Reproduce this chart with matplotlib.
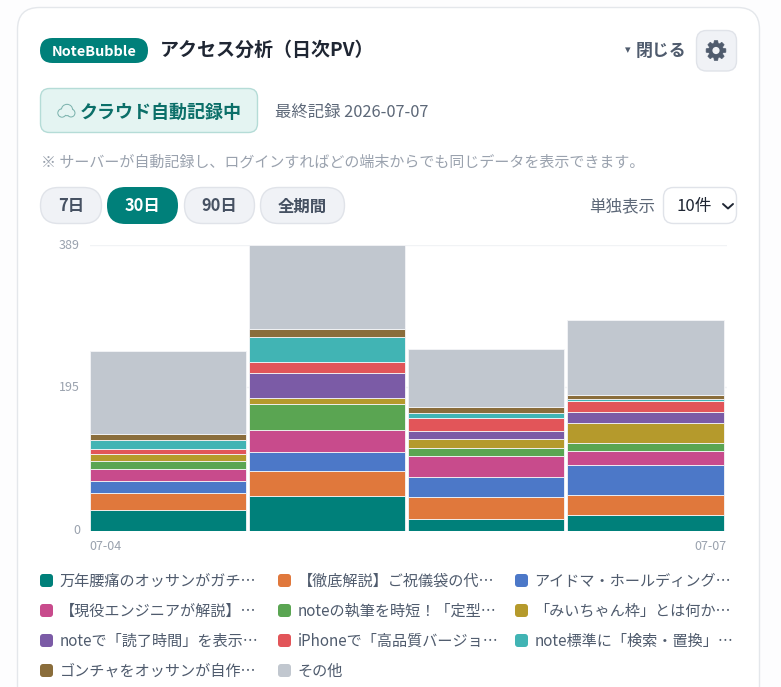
import numpy as np
import matplotlib as mpl
mpl.use('Agg')
import matplotlib.pyplot as plt
from matplotlib.patches import FancyBboxPatch, Circle, PathPatch
from matplotlib.path import Path
from matplotlib.transforms import ScaledTranslation

plt.rcParams['font.family'] = ['Noto Sans CJK JP', 'DejaVu Sans']

# --- data
dates = ['07-04', '07-05', '07-06', '07-07']
y_ticks = [0, 195, 389]

s_teal = [28, 47, 15, 21]
s_orange = [23, 34, 31, 27]
s_blue = [17, 26, 27, 41]
s_pink = [16, 30, 29, 19]
s_green = [10, 35, 10, 11]
s_gold = [10, 8, 12, 27]
s_purple = [0, 34, 11, 15]
s_red = [7, 16, 18, 16]
s_cyan = [12, 33, 7, 2]
s_brown = [8, 12, 8, 6]
s_other = [114, 114, 79, 101]

labels = ['万年腰痛のオッサンがガチ…', '【徹底解説】ご祝儀袋の代…', 'アイドマ・ホールディング…',
          '【現役エンジニアが解説】…', 'noteの執筆を時短！「定型…', '「みいちゃん枠」とは何か…',
          'noteで「読了時間」を表示…', 'iPhoneで「高品質バージョ…', 'note標準に「検索・置換」…',
          'ゴンチャをオッサンが自作…', 'その他']
colors = ['#00807a', '#e0783c', '#4c78c8', '#c84b8c', '#5aa552', '#b59a2c',
          '#7b5ba6', '#e25559', '#41b4b4', '#8a6d3b', '#c1c7cf']
series = [s_teal, s_orange, s_blue, s_pink, s_green, s_gold,
          s_purple, s_red, s_cyan, s_brown, s_other]

W, H = 781, 687
TEAL = '#00807a'
fig = plt.figure(figsize=(W / 100, H / 100), dpi=100, facecolor='#fdfdfe')

# --- page overlay in pixel coordinates
ui = fig.add_axes((0, 0, 1, 1), zorder=1)
ui.set_xlim(0, W)
ui.set_ylim(H, 0)
ui.axis('off')


def pill(x0, y0, x1, y1, r, fc, ec='none', lw=1.0):
    p = FancyBboxPatch((x0 + r, y0 + r), x1 - x0 - 2 * r, y1 - y0 - 2 * r,
                       boxstyle=f'round,pad={r},rounding_size={r}',
                       fc=fc, ec=ec, lw=lw)
    ui.add_patch(p)


def gear(cx, cy, r, fc, hole):
    # settings icon, 8 teeth
    pts = []
    for k in range(8):
        a = k * np.pi / 4
        for da, rr in [(-0.30, 0.74), (-0.17, 1.0), (0.17, 1.0), (0.30, 0.74)]:
            pts.append((cx + r * rr * np.cos(a + da), cy + r * rr * np.sin(a + da)))
    codes = [Path.MOVETO] + [Path.LINETO] * (len(pts) - 1) + [Path.CLOSEPOLY]
    ui.add_patch(PathPatch(Path(pts + [pts[0]], codes), fc=fc, ec=fc, lw=0.5))
    ui.add_patch(Circle((cx, cy), r * 0.36, fc=hole, ec='none'))


# card, runs off the bottom of the picture
pill(17.5, 7.5, 759.5, 760, 22, 'white', '#e4e7eb')

# header
pill(40, 38, 148, 63, 12.5, TEAL)
ui.text(94, 51.5, 'NoteBubble', color='white', fontsize=10.4, fontweight='bold', ha='center', va='center')
ui.text(160, 50.5, 'アクセス分析（日次PV）', color='#1f2633', fontsize=13.7, fontweight='bold', va='center')
ui.text(628, 50, '▾', color='#4f5b6d', fontsize=8, ha='center', va='center')
ui.text(635.5, 51, '閉じる', color='#4f5b6d', fontsize=12.2, fontweight='bold', va='center')
pill(696.5, 30.5, 736.5, 71, 10, '#f0f2f6', '#e0e3e9')
gear(716, 50.5, 10, '#4f5b6d', '#f0f2f6')

# status row
pill(40.5, 88.5, 257.5, 132.5, 9, '#e4f4f2', '#b5dcd7')
cloud = [(62, 113, 4), (67, 110, 5.5), (71, 113, 3.8)]
for cx, cy, r in cloud:
    ui.add_patch(Circle((cx, cy), r, fc='none', ec='#7fb5b0', lw=1.0))
for cx, cy, r in cloud:
    ui.add_patch(Circle((cx, cy), r - 0.4, fc='#e4f4f2', ec='none'))
ui.text(80, 112, 'クラウド自動記録中', color='#0b6f69', fontsize=13, fontweight='bold', va='center')
ui.text(275, 112, '最終記録 2026-07-07', color='#5d6878', fontsize=11.8, va='center')
ui.text(41, 162.5, '※ サーバーが自動記録し、ログインすればどの端末からでも同じデータを表示できます。',
        color='#9aa2ae', fontsize=10.8, va='center')

# range buttons
for x0, x1, t in [(40.5, 101.5, '7日'), (184.5, 254.5, '90日'), (260.5, 344.5, '全期間')]:
    pill(x0, 187.5, x1, 223.5, 18, '#f0f2f6', '#e0e3e9')
    ui.text((x0 + x1) / 2, 206.5, t, color='#465162', fontsize=11.8, fontweight='bold', ha='center', va='center')
pill(107, 187, 178, 224, 18.5, TEAL)
ui.text(142.5, 206.5, '30日', color='white', fontsize=11.8, fontweight='bold', ha='center', va='center')

ui.text(589, 206.5, '単独表示', color='#5d6878', fontsize=11.9, va='center')
pill(663.5, 187.5, 736.5, 223.5, 10, 'white', '#e0e3e9')
ui.text(677, 206.5, '10件', color='#1f2633', fontsize=12, va='center')
ui.plot([723, 728, 733], [204, 208.5, 204], color='#1f2633', lw=1.4, solid_capstyle='round')

# --- stacked bars, axes box matches the plot area in pixels
ax = fig.add_axes((89.6 / W, 1 - 530.5 / H, 637 / W, 285.7 / H), zorder=2)
ax.patch.set_alpha(0)
x = np.arange(len(dates))
bottom = np.zeros(len(dates))
for vals, c in zip(series, colors):
    ax.bar(x, vals, width=0.982, bottom=bottom, align='edge', color=c, edgecolor='#f4f5f7', linewidth=0.6, zorder=3)
    bottom += np.array(vals)

ax.set_xlim(0, 4)
ax.set_ylim(0, 389)
ax.set_yticks(y_ticks, [str(v) for v in y_ticks], fontsize=9, color='#9aa2ae')
ax.tick_params(axis='y', length=0, pad=7)
# labels sit a pixel above the gridlines
for lab in ax.get_yticklabels():
    lab.set_transform(lab.get_transform() + ScaledTranslation(0, 0.01, fig.dpi_scale_trans))
ax.set_xticks([])
ax.grid(axis='y', color='#f1f3f5', lw=1.0, zorder=0)
ax.set_axisbelow(True)
for s in ax.spines.values():
    s.set_visible(False)
ax.text(0, -22, dates[0], transform=ax.transData, fontsize=9, color='#9aa2ae', ha='left', va='center')
ax.text(4, -22, dates[-1], transform=ax.transData, fontsize=9, color='#9aa2ae', ha='right', va='center')

# --- legend, three column grid
col_x = [40, 278, 515]
row_y = [580.5, 610.5, 640.5, 670.5]
for i, (lab, c) in enumerate(zip(labels, colors)):
    cx = col_x[i % 3]
    cy = row_y[i // 3]
    pill(cx, cy - 6.5, cx + 13, cy + 6.5, 3, c)
    ui.text(cx + 19.5, cy + 1, lab, color='#4f5b6d', fontsize=10.9, va='center')

fig.savefig('out.png', dpi=100, facecolor=fig.get_facecolor())
